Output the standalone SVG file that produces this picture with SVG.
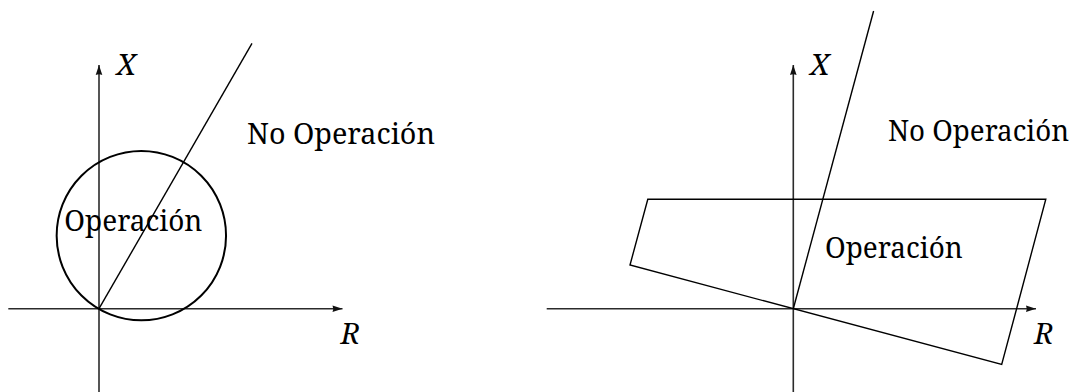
<svg xmlns="http://www.w3.org/2000/svg" width="1082" height="392" viewBox="0 0 1082 392">
<style>
.axis{stroke:#2b2b2b;stroke-width:1.6;fill:none}
.thin{stroke:#000;stroke-width:1.4;fill:none}
.thick{stroke:#000;stroke-width:2;fill:none}
.lbl{font-size:29.5px;fill:#000}
.var{font-style:italic}
</style>
<defs>
<marker id="arr" markerUnits="userSpaceOnUse" markerWidth="14" markerHeight="10" viewBox="-11 -5 12 10" refX="0" refY="0" orient="auto">
<path d="M0,0 L-10,-3.3 Q-8.5,0 -10,3.3 Z" fill="#111"/>
</marker>
</defs>
<g id="connectors">
<line class="axis" x1="8.3" y1="308.7" x2="342.5" y2="308.7" marker-end="url(#arr)"/>
<line class="axis" x1="99" y1="392" x2="99" y2="65" marker-end="url(#arr)"/>
<line class="axis" x1="546.7" y1="308.7" x2="1036" y2="308.7" marker-end="url(#arr)"/>
<line class="axis" x1="793.3" y1="392" x2="793.3" y2="65" marker-end="url(#arr)"/>
</g>
<g id="left-circle">
<circle class="thick" cx="141.35" cy="235.65" r="84.7"/>
</g>
<g id="left-line">
<line class="thin" x1="99" y1="308.7" x2="252" y2="43.3"/>
</g>
<g id="right-quad">
<polygon class="thin" points="647.8,199.3 1045.8,199.3 1001.7,364.5 630,265"/>
</g>
<g id="right-line">
<line class="thin" x1="793.3" y1="308.7" x2="873.6" y2="11"/>
</g>
<g id="labels" font-family="'Noto Serif', 'Liberation Serif', 'DejaVu Serif', serif">
<text class="lbl var" x="116.5" y="74.5">X</text>
<text class="lbl var" x="340.5" y="344">R</text>
<text class="lbl" x="247" y="144" textLength="188" lengthAdjust="spacingAndGlyphs">No Operación</text>
<text class="lbl" x="64.3" y="231" textLength="138" lengthAdjust="spacingAndGlyphs">Operación</text>
<text class="lbl var" x="810" y="74.5">X</text>
<text class="lbl var" x="1034" y="344">R</text>
<text class="lbl" x="888" y="141" font-size="27.5" textLength="181" lengthAdjust="spacingAndGlyphs">No Operación</text>
<text class="lbl" x="825" y="258.3" textLength="137.7" lengthAdjust="spacingAndGlyphs">Operación</text>
</g>
</svg>
